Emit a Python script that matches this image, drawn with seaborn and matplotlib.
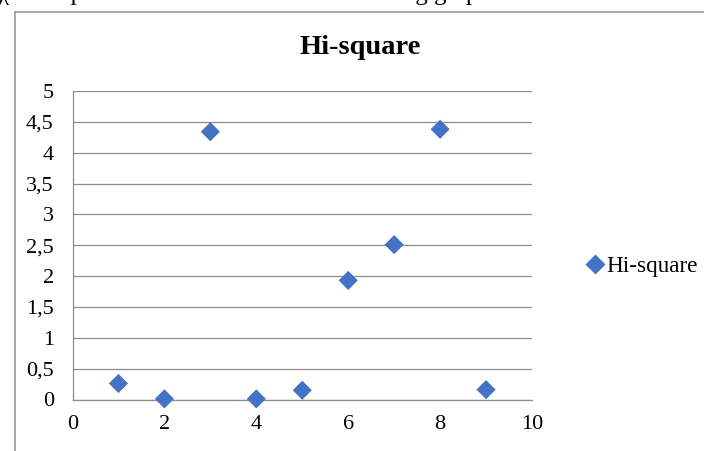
import matplotlib
matplotlib.use("Agg")
import matplotlib.pyplot as plt
import seaborn as sns
import pandas as pd
from matplotlib.lines import Line2D

# Data
x_values = [1, 2, 3, 4, 5, 6, 7, 8, 9]
hi_square = [0.26, 0.01, 4.34, 0.01, 0.15, 1.93, 2.51, 4.38, 0.16]
series_name = "Hi-square"
x_ticks = [0, 2, 4, 6, 8, 10]
y_ticks = [0, 0.5, 1, 1.5, 2, 2.5, 3, 3.5, 4, 4.5, 5]
y_tick_labels = ["0", "0,5", "1", "1,5", "2", "2,5", "3", "3,5", "4", "4,5", "5"]

df = pd.DataFrame({"x": x_values, "y": hi_square, "series": series_name})

sns.set_style("white")
plt.rcParams["font.family"] = ["Liberation Serif", "DejaVu Serif"]
plt.rcParams["text.color"] = "black"

W, H = 704, 451
fig = plt.figure(figsize=(W / 100, H / 100), dpi=100)
ax = fig.add_axes([72.5 / W, 1 - 399.5 / H, (532 - 72.5) / W, (399.5 - 91) / H])

blue = "#4472C4"
sns.scatterplot(data=df, x="x", y="y", hue="series", palette=[blue],
                marker="D", s=95, edgecolor="none", ax=ax, zorder=3, clip_on=False)

ax.set_xlim(0, 10)
ax.set_ylim(0, 5)
ax.set_xticks(x_ticks)
ax.set_xticklabels([str(t) for t in x_ticks])
ax.set_yticks(y_ticks)
ax.set_yticklabels(y_tick_labels)
ax.set_xlabel("")
ax.set_ylabel("")

grid_c = "#8c8c8c"
ax.yaxis.grid(True, color=grid_c, linewidth=0.9)
ax.xaxis.grid(False)
ax.set_axisbelow(True)
for side in ["top", "right"]:
    ax.spines[side].set_visible(False)
for side in ["left", "bottom"]:
    ax.spines[side].set_color(grid_c)
    ax.spines[side].set_linewidth(0.9)
ax.tick_params(axis="both", which="major", labelsize=16, labelcolor="#000000",
               length=5.5, width=0.9, direction="out", color=grid_c)
ax.tick_params(axis="y", pad=8)
ax.tick_params(axis="x", pad=6)

# Legend
leg = ax.legend(loc="center left", bbox_to_anchor=(576 / W, 1 - 266 / H),
                bbox_transform=fig.transFigure, frameon=False,
                handletextpad=0.2, handlelength=0.6, borderpad=0,
                prop={"size": 16.7}, markerscale=1.0)
for t in leg.get_texts():
    t.set_color("black")

# Title
fig.text(360 / W, 1 - 54.3 / H, "Hi-square", ha="center", va="baseline",
         fontsize=20.5, fontweight="bold", color="black")

# Chart border (partially visible)
fig.add_artist(Line2D([15 / W, 1], [1 - 12 / H, 1 - 12 / H],
                      transform=fig.transFigure, color="#999999", linewidth=1.2))
fig.add_artist(Line2D([15 / W, 15 / W], [0, 1 - 12 / H],
                      transform=fig.transFigure, color="#999999", linewidth=1.2))

# Cropped body text above the chart
fig.text(-2 / W, 1.0, "χ² data plotted as is shown in the following graph",
         ha="left", va="baseline", fontsize=18, color="black")

fig.savefig("out.png", dpi=100)
